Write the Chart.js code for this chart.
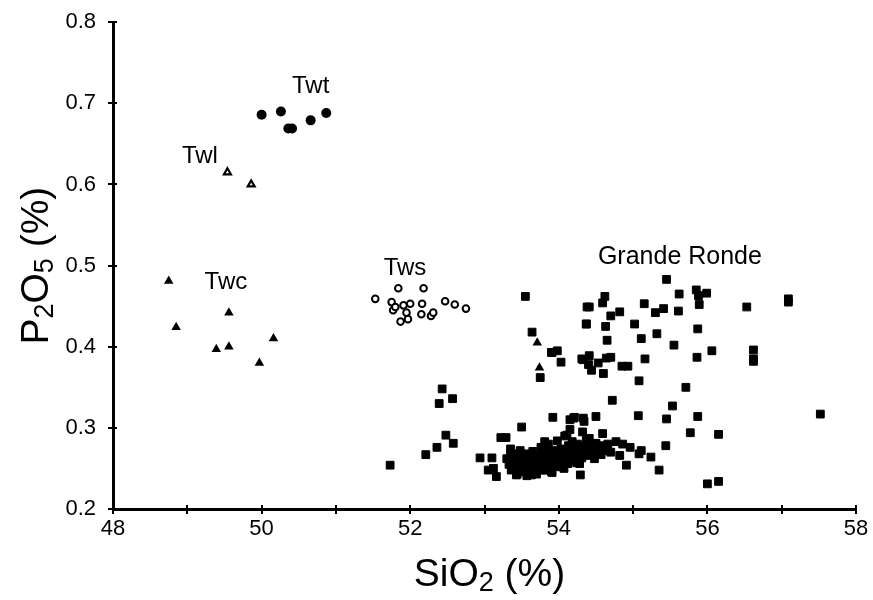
<!DOCTYPE html>
<html>
<head>
<meta charset="utf-8">
<script src="https://cdn.jsdelivr.net/npm/chart.js@4.4.0/dist/chart.umd.min.js"></script>
<style>
  html, body { margin: 0; padding: 0; background: #fff; }
  #wrap { width: 873px; height: 600px; }
</style>
</head>
<body>
<div id="wrap"><canvas id="chartP2O5"></canvas></div>
<script>
// SiO2 (x) vs P2O5 (y), in %
const grandeRondeX = [
  53.55, 53.64, 53.91, 53.98, 54.03, 53.75, 54.38, 54.37, 54.33,
  52.43, 52.57, 52.39, 52.48, 52.58, 52.36, 52.21, 51.73,
  52.94, 53.10, 53.05, 53.12, 53.16, 53.22, 53.29, 53.35, 53.50, 53.81,
  53.92, 54.15, 54.21, 54.34, 54.50, 54.11, 54.15, 54.32, 54.59, 54.41,
  54.72, 55.08, 55.07, 55.45, 54.77, 54.86, 54.96, 55.11, 55.44, 55.24,
  54.82, 55.08, 54.91, 55.35, 54.29,
  55.45, 54.62, 54.59, 54.41, 55.15, 55.62, 55.85, 55.88, 55.99, 55.89,
  56.53, 57.09, 57.09, 55.41, 55.30, 55.61, 54.82, 54.70, 54.37, 54.63,
  55.02, 55.32, 55.87, 55.11, 54.65, 55.55, 56.06, 56.62, 56.62, 56.62,
  53.90, 54.31, 54.41, 54.40, 54.44, 54.53, 54.64, 54.70, 54.60, 54.85,
  54.93, 55.16, 55.86, 55.71, 55.53, 57.52, 55.87, 55.77, 56.15, 56.00,
  56.15, 54.20, 54.33,
  // dense cluster
  53.30, 53.33, 53.36, 53.38, 53.40, 53.42, 53.44, 53.46, 53.48, 53.50,
  53.52, 53.53, 53.55, 53.57, 53.58, 53.60, 53.62, 53.63, 53.65, 53.67,
  53.69, 53.70, 53.72, 53.74, 53.76, 53.78, 53.79, 53.81, 53.83, 53.85,
  53.86, 53.88, 53.90, 53.91, 53.93, 53.95, 53.97, 53.98, 54.00, 54.02,
  54.03, 54.05, 54.07, 54.08, 54.10, 54.12, 54.13, 54.15, 54.17, 54.18,
  54.20, 54.22, 54.24, 54.25, 54.27, 54.29, 54.31, 54.33, 54.35, 54.37,
  54.38, 54.40, 54.42, 54.44, 54.46, 54.48, 54.50, 54.52, 54.54, 54.57,
  54.60, 54.63, 54.66, 54.70, 53.43, 53.63, 53.78, 53.90, 54.07, 53.47,
  53.58, 53.71, 53.84, 53.96, 54.06, 54.19, 54.28, 53.35, 53.52, 53.66
];
const grandeRondeY = [
  0.462, 0.418, 0.393, 0.395, 0.381, 0.362, 0.449, 0.428, 0.384,
  0.348, 0.336, 0.330, 0.291, 0.281, 0.276, 0.267, 0.254,
  0.263, 0.263, 0.248, 0.250, 0.240, 0.288, 0.288, 0.274, 0.301, 0.283,
  0.313, 0.310, 0.313, 0.308, 0.314, 0.291, 0.298, 0.295, 0.293, 0.287,
  0.334, 0.358, 0.315, 0.311, 0.283, 0.280, 0.276, 0.272, 0.278, 0.264,
  0.266, 0.268, 0.254, 0.248, 0.242,
  0.483, 0.462, 0.454, 0.449, 0.453, 0.465, 0.470, 0.463, 0.466, 0.452,
  0.449, 0.459, 0.455, 0.447, 0.442, 0.444, 0.443, 0.438, 0.428, 0.425,
  0.428, 0.416, 0.422, 0.410, 0.408, 0.402, 0.395, 0.396, 0.385, 0.382,
  0.393, 0.385, 0.389, 0.378, 0.371, 0.380, 0.386, 0.387, 0.367, 0.376,
  0.376, 0.385, 0.387, 0.350, 0.327, 0.317, 0.314, 0.294, 0.292, 0.231,
  0.234, 0.312, 0.312,
  0.262, 0.255, 0.248, 0.268, 0.258, 0.250, 0.243, 0.263, 0.272, 0.254,
  0.246, 0.260, 0.268, 0.241, 0.252, 0.258, 0.264, 0.247, 0.271, 0.255,
  0.261, 0.243, 0.250, 0.266, 0.276, 0.257, 0.262, 0.248, 0.270, 0.254,
  0.280, 0.260, 0.266, 0.245, 0.272, 0.258, 0.263, 0.284, 0.268, 0.252,
  0.274, 0.260, 0.266, 0.290, 0.271, 0.256, 0.278, 0.264, 0.269, 0.283,
  0.262, 0.275, 0.257, 0.280, 0.268, 0.272, 0.263, 0.277, 0.269, 0.285,
  0.274, 0.266, 0.279, 0.271, 0.276, 0.262, 0.281, 0.270, 0.274, 0.267,
  0.278, 0.272, 0.280, 0.270, 0.242, 0.242, 0.248, 0.246, 0.250, 0.258,
  0.256, 0.254, 0.258, 0.256, 0.258, 0.260, 0.256, 0.266, 0.262, 0.247
];

const twtX = [50.00, 50.26, 50.36, 50.41, 50.66, 50.87];
const twtY = [0.686, 0.690, 0.669, 0.669, 0.679, 0.688];

const twlX = [49.54, 49.86];
const twlY = [0.615, 0.600];

const twcX = [48.75, 48.85, 49.56, 49.39, 49.56, 49.97, 50.16, 53.71, 53.74];
const twcY = [0.481, 0.424, 0.442, 0.397, 0.400, 0.380, 0.410, 0.405, 0.374];

const twsX = [51.53, 51.84, 52.18, 51.75, 51.77, 51.80, 51.91, 52.00, 51.95,
  51.97, 51.87, 52.16, 52.15, 52.28, 52.31, 52.47, 52.60, 52.75];
const twsY = [0.459, 0.472, 0.472, 0.455, 0.445, 0.449, 0.451, 0.453, 0.442,
  0.434, 0.431, 0.453, 0.440, 0.438, 0.442, 0.456, 0.452, 0.447];

const groupNames = ['Twt', 'Twl', 'Twc', 'Tws', 'Grande Ronde'];
const groupLabelX = [50.66, 49.17, 49.52, 51.93, 55.63];
const groupLabelY = [0.721, 0.635, 0.479, 0.497, 0.510];

const xTicks = [48, 49, 50, 51, 52, 53, 54, 55, 56, 57, 58];
const yTicks = [0.2, 0.3, 0.4, 0.5, 0.6, 0.7, 0.8];

function toPoints(xs, ys) {
  return xs.map((x, i) => ({ x: x, y: ys[i] }));
}

const FONT = 'Liberation Sans, Arial, sans-serif';

// draws tick marks across the axes, the group names and the axis titles
const decorations = {
  id: 'decorations',
  afterDraw(chart) {
    const ctx = chart.ctx;
    const xs = chart.scales.x;
    const ys = chart.scales.y;
    const area = chart.chartArea;
    ctx.save();
    ctx.strokeStyle = '#000';
    ctx.lineWidth = 2;
    xTicks.forEach(v => {
      const px = Math.round(xs.getPixelForValue(v));
      ctx.beginPath();
      ctx.moveTo(px, area.bottom - 4);
      ctx.lineTo(px, area.bottom + 5);
      ctx.stroke();
    });
    yTicks.forEach(v => {
      const py = Math.round(ys.getPixelForValue(v));
      ctx.beginPath();
      ctx.moveTo(area.left - 5, py);
      ctx.lineTo(area.left + 4, py);
      ctx.stroke();
    });

    ctx.fillStyle = '#000';
    ctx.textAlign = 'center';
    ctx.textBaseline = 'middle';
    groupNames.forEach((name, i) => {
      ctx.font = (name === 'Grande Ronde' ? '25px ' : '24px ') + FONT;
      ctx.fillText(name, xs.getPixelForValue(groupLabelX[i]), ys.getPixelForValue(groupLabelY[i]));
    });

    // x title: SiO2 (%)
    drawSubTitle(ctx, [['Si', false], ['O', false], ['2', true], [' (%)', false]],
      (area.left + area.right) / 2 + 5, 575, 0);
    // y title: P2O5 (%)
    drawSubTitle(ctx, [['P', false], ['2', true], ['O', false], ['5', true], [' (%)', false]],
      37, (area.top + area.bottom) / 2, -Math.PI / 2);
    ctx.restore();
  }
};

function drawSubTitle(ctx, parts, cx, cy, rot) {
  const big = '39px ' + FONT;
  const small = '27px ' + FONT;
  let total = 0;
  parts.forEach(p => {
    ctx.font = p[1] ? small : big;
    total += ctx.measureText(p[0]).width;
  });
  ctx.save();
  ctx.translate(cx, cy);
  ctx.rotate(rot);
  ctx.textAlign = 'left';
  ctx.textBaseline = 'middle';
  let x = -total / 2;
  parts.forEach(p => {
    ctx.font = p[1] ? small : big;
    ctx.fillText(p[0], x, p[1] ? 9 : 0);
    x += ctx.measureText(p[0]).width;
  });
  ctx.restore();
}

const ctx = document.getElementById('chartP2O5').getContext('2d');
const myChart = new Chart(ctx, {
  type: 'scatter',
  data: {
    datasets: [
      {
        label: 'Grande Ronde',
        data: toPoints(grandeRondeX, grandeRondeY),
        pointStyle: 'rect',
        pointRadius: 5.5,
        backgroundColor: '#000',
        borderColor: '#000',
        borderWidth: 1
      },
      {
        label: 'Twt',
        data: toPoints(twtX, twtY),
        pointStyle: 'circle',
        pointRadius: 5,
        backgroundColor: '#000',
        borderColor: '#000',
        borderWidth: 0
      },
      {
        label: 'Twl',
        data: toPoints(twlX, twlY),
        pointStyle: 'triangle',
        pointRadius: 4,
        backgroundColor: '#fff',
        borderColor: '#000',
        borderWidth: 2.2
      },
      {
        label: 'Twc',
        data: toPoints(twcX, twcY),
        pointStyle: 'triangle',
        pointRadius: 5.5,
        backgroundColor: '#000',
        borderColor: '#000',
        borderWidth: 0
      },
      {
        label: 'Tws',
        data: toPoints(twsX, twsY),
        pointStyle: 'circle',
        pointRadius: 3.3,
        backgroundColor: '#fff',
        borderColor: '#000',
        borderWidth: 2
      }
    ]
  },
  options: {
    responsive: true,
    maintainAspectRatio: false,
    animation: false,
    events: [],
    layout: { padding: { top: 21, right: 17, left: 0, bottom: 0 } },
    plugins: {
      legend: { display: false },
      tooltip: { enabled: false }
    },
    scales: {
      x: {
        type: 'linear',
        min: 48,
        max: 58,
        afterFit: s => { s.height = 91; },
        afterBuildTicks: s => { s.ticks = xTicks.map(v => ({ value: v })); },
        border: { display: true, color: '#000', width: 3 },
        grid: { display: false },
        ticks: {
          color: '#000',
          font: { family: FONT, size: 22 },
          padding: -1,
          maxRotation: 0,
          autoSkip: false,
          callback: v => (v % 2 === 0 ? String(v) : '')
        }
      },
      y: {
        type: 'linear',
        min: 0.2,
        max: 0.8,
        afterFit: s => { s.width = 113; },
        afterBuildTicks: s => { s.ticks = yTicks.map(v => ({ value: v })); },
        border: { display: true, color: '#000', width: 3 },
        grid: { display: false },
        ticks: {
          color: '#000',
          font: { family: FONT, size: 22 },
          padding: 9,
          autoSkip: false,
          callback: v => v.toFixed(1)
        }
      }
    }
  },
  plugins: [decorations]
});
</script>
</body>
</html>
